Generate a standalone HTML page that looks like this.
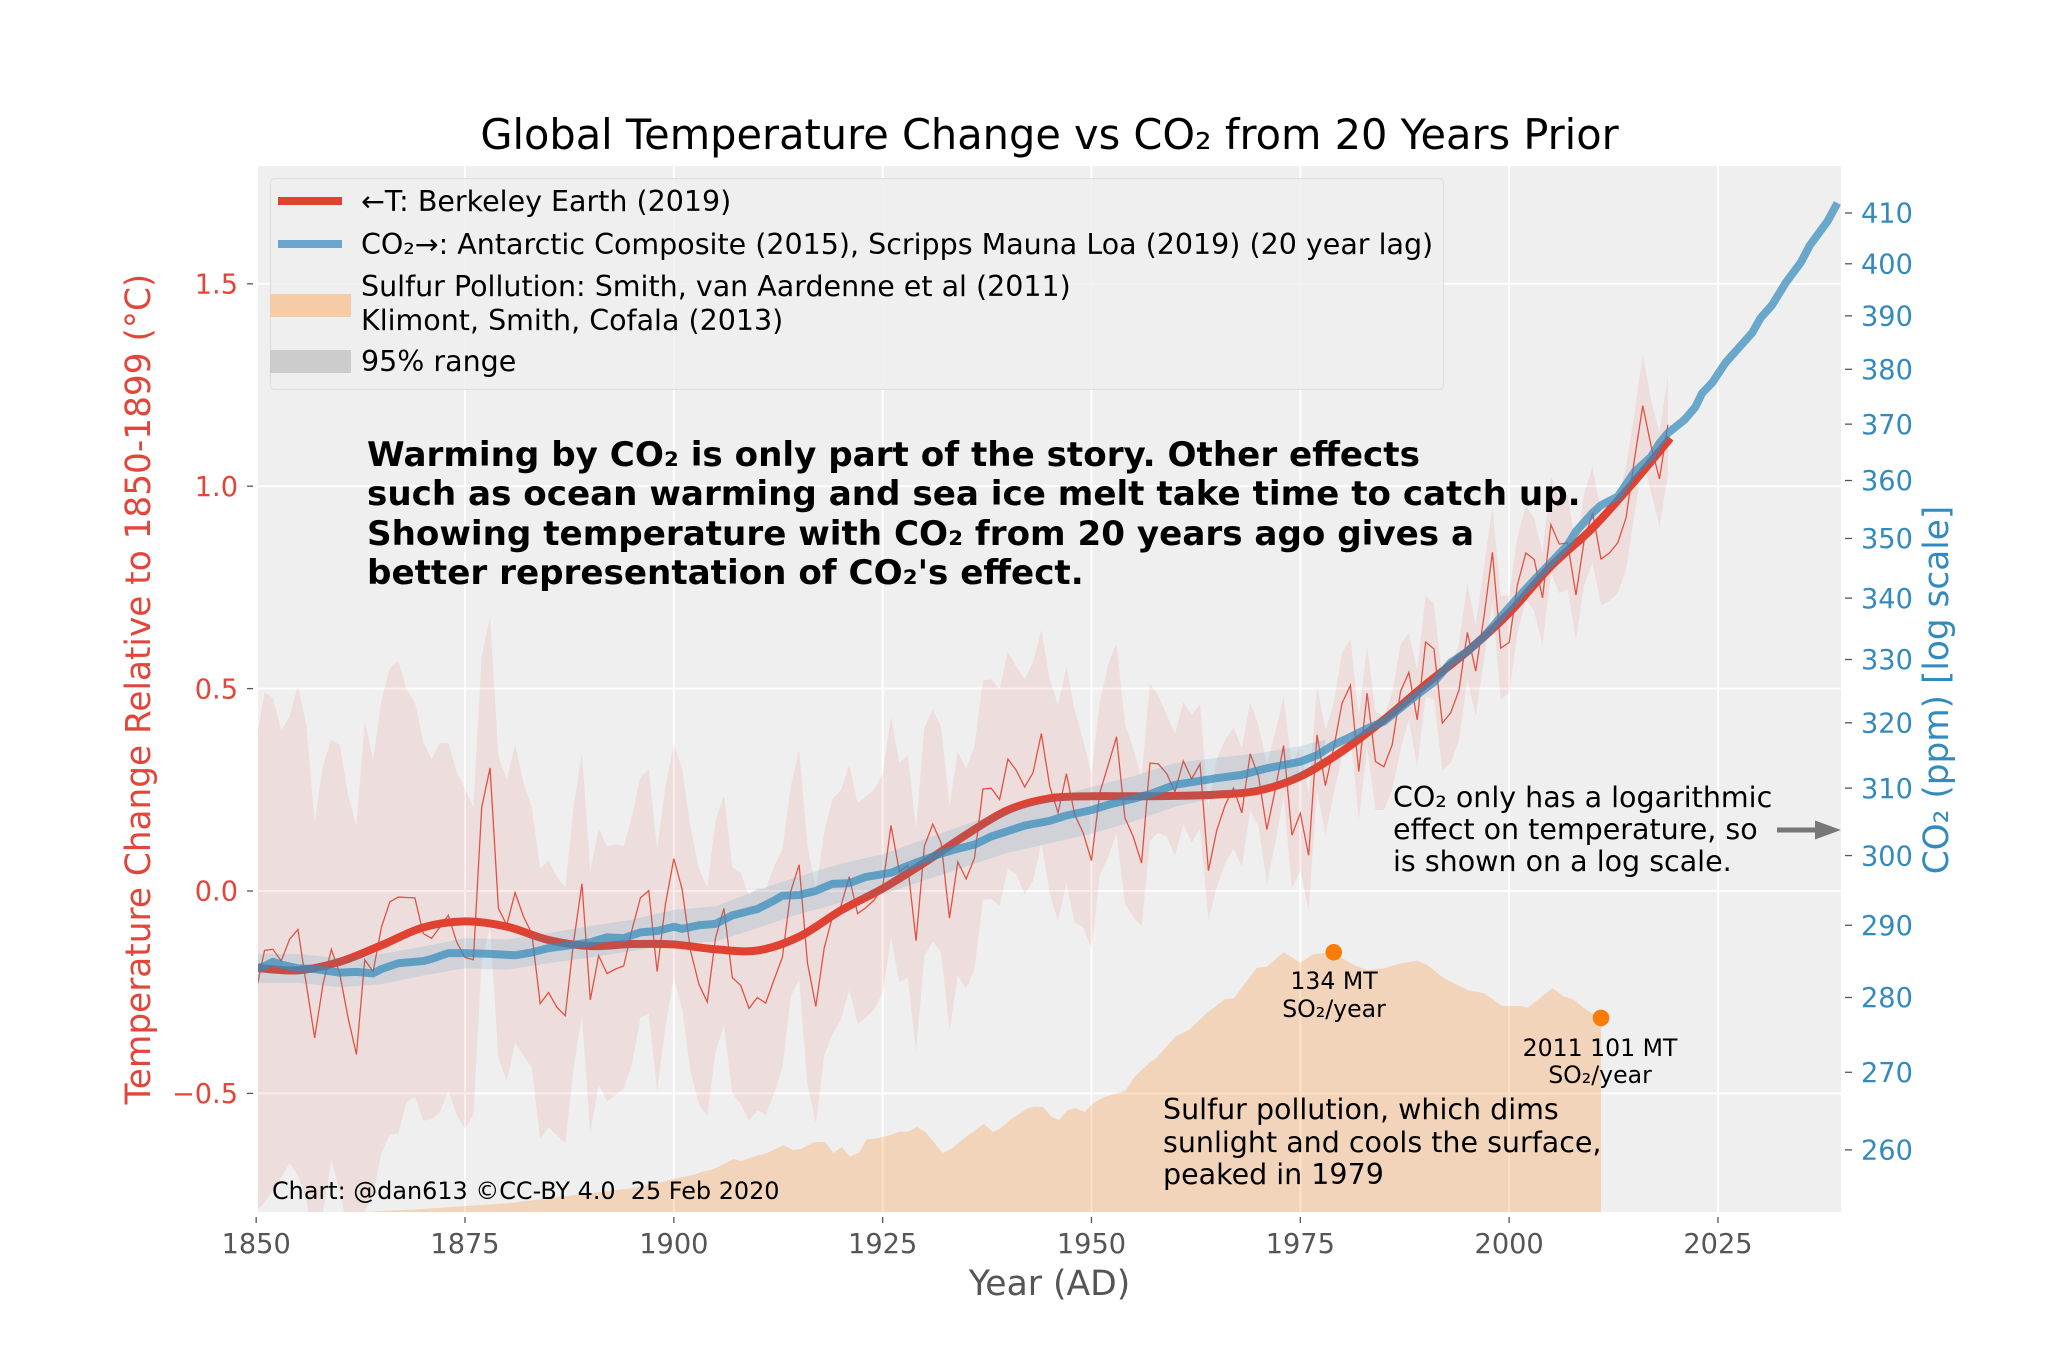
<!DOCTYPE html>
<html lang="en">
<head>
<meta charset="utf-8">
<title>Global Temperature Change vs CO₂ from 20 Years Prior</title>
<style>
html,body{margin:0;padding:0;background:#fff;}
svg{display:block;font-family:"DejaVu Sans","Liberation Sans",sans-serif;}
text{white-space:pre;}
</style>
</head>
<body>
<svg id="chart" xmlns="http://www.w3.org/2000/svg" width="2048" height="1365" viewBox="0 0 2048 1365">
  <defs>
    <clipPath id="plot-clip"><rect x="258" y="166" width="1583" height="1046"/></clipPath>
  </defs>
  <rect x="0" y="0" width="2048" height="1365" fill="#ffffff"/>
  <rect x="258" y="166" width="1583" height="1046" fill="#efefef"/>
  <g id="grid"></g>
  <g id="marks" clip-path="url(#plot-clip)"></g>
  <g id="axes"></g>

  <text x="1049.5" y="149" font-size="41.5" text-anchor="middle" fill="#000">Global Temperature Change vs CO₂ from 20 Years Prior</text>
  <text x="1049.5" y="1295" font-size="34.6" text-anchor="middle" fill="#555555">Year (AD)</text>
  <text transform="translate(150,689) rotate(-90)" font-size="34.3" text-anchor="middle" fill="#E2453A">Temperature Change Relative to 1850-1899 (°C)</text>
  <text transform="translate(1948,690) rotate(-90)" font-size="34.3" text-anchor="middle" fill="#348ABD">CO₂ (ppm) [log scale]</text>

  <g>
    <rect x="270.5" y="178.5" width="1173" height="211" rx="4" fill="#efefef" fill-opacity="0.8" stroke="#dcdcdc" stroke-opacity="0.8" stroke-width="1.3"/>
    <rect x="278" y="197" width="64" height="8" fill="#E04232"/>
    <rect x="278" y="240" width="64" height="8" fill="#6BA7CC"/>
    <rect x="270" y="294" width="81" height="23" fill="#F5CCA5"/>
    <rect x="270" y="350" width="81" height="23" fill="#CCCCCC"/>
    <text x="361" y="211" font-size="28.5" fill="#000">←T: Berkeley Earth (2019)</text>
    <text x="361" y="254" font-size="28.5" fill="#000">CO₂→: Antarctic Composite (2015), Scripps Mauna Loa (2019) (20 year lag)</text>
    <text x="361" y="296" font-size="28.5" fill="#000">Sulfur Pollution: Smith, van Aardenne et al (2011)</text>
    <text x="361" y="330" font-size="28.5" fill="#000">Klimont, Smith, Cofala (2013)</text>
    <text x="361" y="371" font-size="28.5" fill="#000">95% range</text>
  </g>

  <g font-size="34.15" font-weight="bold" fill="#000">
    <text x="367" y="466">Warming by CO₂ is only part of the story. Other effects</text>
    <text x="367" y="505">such as ocean warming and sea ice melt take time to catch up.</text>
    <text x="367" y="545">Showing temperature with CO₂ from 20 years ago gives a</text>
    <text x="367" y="584">better representation of CO₂'s effect.</text>
  </g>

  <g font-size="28.5" fill="#000">
    <text x="1393" y="807">CO₂ only has a logarithmic</text>
    <text x="1393" y="839">effect on temperature, so</text>
    <text x="1393" y="871">is shown on a log scale.</text>
  </g>
  <g fill="#777777">
    <rect x="1777" y="827.5" width="40" height="5"/>
    <polygon points="1815,820.5 1841,830 1815,839.5"/>
  </g>

  <g font-size="28.5" fill="#000">
    <text x="1163" y="1119">Sulfur pollution, which dims</text>
    <text x="1163" y="1152">sunlight and cools the surface,</text>
    <text x="1163" y="1184">peaked in 1979</text>
  </g>
  <g font-size="23.6" fill="#000" text-anchor="middle">
    <text x="1334" y="989">134 MT</text>
    <text x="1334" y="1017">SO₂/year</text>
    <text x="1600" y="1056">2011 101 MT</text>
    <text x="1600" y="1083">SO₂/year</text>
  </g>
  <text x="272" y="1199" font-size="23.9" fill="#000">Chart: @dan613 ©CC-BY 4.0  25 Feb 2020</text>
</svg>
<script>
// ---- data ----
const firstYear = 1850;
// Annual temperature anomaly, 1850..2019 (deg C)
const annualTemp = [-0.245,-0.147,-0.144,-0.173,-0.119,-0.095,-0.230,-0.363,-0.230,-0.144,
-0.204,-0.313,-0.404,-0.170,-0.199,-0.089,-0.027,-0.015,-0.016,-0.017,
-0.105,-0.117,-0.089,-0.060,-0.126,-0.164,-0.170,0.207,0.304,-0.043,
-0.084,-0.004,-0.063,-0.105,-0.278,-0.251,-0.287,-0.308,-0.126,0.018,
-0.269,-0.160,-0.204,-0.193,-0.185,-0.095,-0.017,0.001,-0.199,-0.032,
0.080,0.004,-0.147,-0.230,-0.274,-0.115,-0.043,-0.214,-0.233,-0.290,
-0.263,-0.277,-0.219,-0.164,-0.001,0.065,-0.178,-0.285,-0.141,-0.063,
-0.037,0.035,-0.056,-0.041,-0.022,0.011,0.162,0.048,0.063,-0.123,
0.111,0.165,0.119,-0.067,0.072,0.030,0.082,0.252,0.254,0.226,
0.326,0.298,0.257,0.292,0.389,0.259,0.193,0.290,0.188,0.144,
0.075,0.243,0.311,0.381,0.181,0.134,0.069,0.316,0.314,0.290,
0.245,0.321,0.277,0.314,0.050,0.150,0.212,0.254,0.193,0.339,
0.283,0.152,0.250,0.359,0.138,0.192,0.088,0.386,0.260,0.353,
0.464,0.508,0.295,0.489,0.320,0.307,0.361,0.493,0.540,0.423,
0.615,0.598,0.415,0.440,0.496,0.639,0.543,0.679,0.837,0.600,
0.614,0.757,0.835,0.819,0.724,0.905,0.857,0.860,0.731,0.868,
0.934,0.820,0.835,0.860,0.922,1.066,1.199,1.099,1.018,1.152];
// Upper edge of the 95% range, 1850..2019
const tempUpper = [0.368,0.490,0.477,0.397,0.431,0.506,0.410,0.171,0.311,0.373,
0.361,0.238,0.160,0.420,0.323,0.472,0.550,0.569,0.497,0.467,
0.368,0.326,0.366,0.366,0.295,0.253,0.207,0.581,0.676,0.331,
0.276,0.362,0.268,0.206,0.056,0.077,0.035,0.009,0.207,0.340,
0.050,0.154,0.111,0.115,0.111,0.186,0.280,0.301,0.103,0.259,
0.365,0.301,0.155,0.056,0.009,0.175,0.236,0.059,0.046,-0.011,
0.009,0.004,0.061,0.103,0.258,0.347,0.113,0.004,0.144,0.228,
0.249,0.311,0.218,0.233,0.252,0.290,0.430,0.316,0.337,0.155,
0.404,0.449,0.404,0.212,0.344,0.303,0.358,0.520,0.523,0.499,
0.591,0.554,0.523,0.565,0.645,0.523,0.461,0.554,0.446,0.373,
0.290,0.467,0.560,0.612,0.414,0.352,0.279,0.513,0.482,0.435,
0.388,0.467,0.435,0.461,0.207,0.326,0.373,0.404,0.352,0.467,
0.407,0.316,0.390,0.481,0.307,0.361,0.241,0.506,0.398,0.464,
0.588,0.623,0.431,0.605,0.444,0.431,0.489,0.609,0.638,0.547,
0.730,0.708,0.526,0.547,0.613,0.759,0.658,0.802,0.951,0.728,
0.732,0.876,0.951,0.922,0.835,1.025,0.967,0.979,0.852,0.984,
1.049,0.934,0.942,0.967,1.049,1.181,1.325,1.214,1.132,1.272];
// Lower edge of the 95% range, 1850..2019
const tempLower = [-0.791,-0.770,-0.739,-0.708,-0.672,-0.703,-0.760,-0.895,-0.791,-0.666,
-0.739,-0.843,-0.916,-0.791,-0.749,-0.646,-0.602,-0.599,-0.521,-0.508,
-0.568,-0.564,-0.547,-0.493,-0.552,-0.588,-0.552,-0.173,-0.089,-0.412,
-0.469,-0.375,-0.406,-0.438,-0.611,-0.583,-0.604,-0.623,-0.438,-0.308,
-0.596,-0.479,-0.519,-0.505,-0.488,-0.427,-0.313,-0.302,-0.495,-0.334,
-0.214,-0.292,-0.448,-0.526,-0.557,-0.396,-0.334,-0.500,-0.526,-0.568,
-0.542,-0.554,-0.500,-0.438,-0.261,-0.219,-0.479,-0.573,-0.406,-0.354,
-0.318,-0.245,-0.328,-0.313,-0.292,-0.251,-0.115,-0.225,-0.214,-0.396,
-0.162,-0.124,-0.152,-0.346,-0.209,-0.242,-0.193,-0.022,-0.019,-0.037,
0.056,0.041,-0.008,0.025,0.119,-0.006,-0.074,0.020,-0.079,-0.089,
-0.144,0.041,0.082,0.144,-0.032,-0.064,-0.087,0.124,0.144,0.134,
0.087,0.165,0.119,0.155,-0.073,0.010,0.068,0.105,0.060,0.200,
0.159,0.018,0.117,0.233,0.006,0.051,-0.048,0.250,0.138,0.241,
0.332,0.386,0.175,0.353,0.200,0.200,0.250,0.349,0.423,0.307,
0.481,0.473,0.299,0.316,0.374,0.522,0.432,0.572,0.712,0.473,
0.489,0.638,0.720,0.691,0.609,0.786,0.736,0.745,0.621,0.757,
0.811,0.705,0.716,0.736,0.794,0.930,1.066,0.984,0.901,1.025];
// Smoothed temperature
const smoothYears = [1850,1855,1860,1865,1870,1875,1880,1885,1890,1895,1900,1905,1910,1915,1920,1925,1930,1935,1940,1945,1950,1955,1960,1965,1970,1975,1980,1985,1990,1995,2000,2005,2010,2015,2019.3];
const smoothTemp = [-0.190,-0.196,-0.175,-0.134,-0.090,-0.075,-0.088,-0.121,-0.136,-0.131,-0.132,-0.144,-0.147,-0.113,-0.048,0.006,0.070,0.139,0.200,0.229,0.234,0.234,0.235,0.238,0.248,0.283,0.345,0.423,0.510,0.592,0.687,0.802,0.897,1.012,1.119];
// CO2 (ppm), already shifted by the 20-year lag on the x axis
const co2Years = [1850,1851,1852,1853,1855,1857,1860,1862,1864,1865,1867,1870,1871,1873,1875,1878,1881,1883,1885,1887,1890,1892,1894,1896,1898,1900,1901,1903,1905,1907,1910,1912,1913,1915,1917,1919,1921,1923,1926,1928,1930,1932,1934,1936,1938,1940,1942,1945,1947,1950,1952,1955,1957,1960,1963,1965,1968,1971,1973,1975,1977,1979,1981,1983,1985,1987,1989,1991,1993,1995,1997,1999,2001,2003,2005,2007,2008,2010,2011,2013,2015,2017,2018,2019,2021,2022.3,2023.1,2024.3,2025.9,2027.5,2029.1,2030.1,2031.5,2033.1,2034.9,2036,2038.1,2039.3];
const co2Ppm = [284.0,284.3,284.9,284.5,284.0,283.9,283.4,283.5,283.3,283.9,284.7,285.0,285.3,286.1,286.1,286.0,285.8,286.2,286.8,287.1,287.6,288.3,288.2,289.0,289.2,289.8,289.5,290.0,290.2,291.4,292.3,293.5,294.2,294.3,294.9,295.9,296.0,296.9,297.5,298.5,299.4,300.3,301.0,301.6,302.8,303.6,304.4,305.1,305.9,306.7,307.5,308.4,309.1,310.5,311.1,311.5,312.0,313.0,313.5,314.0,315.0,316.6,317.8,319.1,320.2,322.3,324.4,326.4,329.5,331.3,333.7,336.9,340.0,343.0,345.9,348.9,351.2,354.4,355.7,357.2,361.5,364.2,366.6,368.4,370.8,373.1,375.6,377.5,381.2,384.0,386.8,389.6,392.1,396.3,400.2,403.6,408.3,412.0];
// CO2 uncertainty band
const co2BandYears = [1850,1855,1860,1865,1870,1875,1880,1885,1890,1895,1900,1905,1910,1915,1920,1925,1930,1935,1940,1945,1950,1955,1960,1965,1970,1975,1978];
const co2BandUpper = [286,286,285.4,286,287,288.2,288,288.9,289.9,290.8,292.2,292.7,295,297,298.8,300.2,302.4,304.6,306.8,308.4,310.2,311.8,313.8,314.6,315.3,316.4,317.4];
const co2BandLower = [282,282,281.4,281.8,283,284,283.8,284.7,285.5,286.4,287.4,287.7,289.6,291.6,293.2,294.4,296.4,298.4,300.4,301.8,303.2,305,307.2,308.6,310,311.7,314.5];
// Sulfur emissions (MT SO2 / year)
const sulfurYears = [1863,1865,1870,1875,1880,1885,1890,1895,1898.4,1900,1902.4,1903.4,1904.4,1905.8,1907.1,1908.1,1909.8,1911.2,1913.1,1914.3,1915.2,1916.8,1918.1,1919.1,1920.1,1921.1,1922.2,1923.1,1924,1925.6,1927,1928,1929.1,1930.2,1932.2,1933.2,1935,1937.1,1938.2,1939,1940.4,1942.4,1943.2,1944.2,1945.2,1946.1,1947.1,1948.1,1949.2,1950.2,1951.6,1954,1955.2,1957,1957.8,1960,1961.8,1963.8,1966,1967,1969.8,1971,1973,1975,1976.6,1977.8,1979.4,1981.4,1983,1985,1987,1989,1990.2,1992.2,1995,1997,1999.2,2001.4,2002.2,2005.2,2006.6,2007.8,2009,2010.6,2011];
const sulfurMt = [3.5,4.0,5.0,6.5,7.8,10.4,12.9,15.4,18.2,20.1,22.1,23.7,24.6,27.1,30.1,29.1,31.6,33.1,37.1,34.6,35.1,38.6,38.8,33.1,36.1,31.3,33.3,40.2,40.2,41.7,43.8,43.8,46.3,43.2,33.1,35.1,41.3,47.7,43.7,45.2,50.2,55.7,56.4,56.2,51.4,49.7,54.4,55.7,53.7,58.2,61.4,64.3,71.5,78.8,80.9,91.4,95.4,103.5,110.5,110.7,126.2,126.7,134,128.7,133.1,133.5,132.6,127.6,125.1,125.9,128.4,129.7,127.6,120.9,115,113.4,107,107,106.1,115.9,111.7,110,105.8,101.6,101];
const sulfurPointYears = [1979,2011];
const sulfurPointMt = [134,101];
// Axis ticks
const xTicks = [1850,1875,1900,1925,1950,1975,2000,2025];
const xTickLabels = ['1850','1875','1900','1925','1950','1975','2000','2025'];
const tempTicks = [-0.5,0,0.5,1,1.5];
const tempTickLabels = ['−0.5','0.0','0.5','1.0','1.5'];
const co2Ticks = [260,270,280,290,300,310,320,330,340,350,360,370,380,390,400,410];
const co2TickLabels = ['260','270','280','290','300','310','320','330','340','350','360','370','380','390','400','410'];

// ---- axis functions ----
function xScale(year){ return 465 + (year - 1875) * 8.353; }
function yTemp(t){ return 891 - 404.8 * t; }
function yCo2(ppm){ return 213 + 2057 * Math.log(410 / ppm); }
function ySulfur(mt){ return 1218.9 - 1.99 * mt; }

const NS = 'http://www.w3.org/2000/svg';
function make(parent, tag, attrs){
  const el = document.createElementNS(NS, tag);
  for (const k in attrs) el.setAttribute(k, attrs[k]);
  parent.appendChild(el);
  return el;
}
function pts(xs, ys){ return xs.map((x,i)=>x.toFixed(2)+' '+ys[i].toFixed(2)); }
function linePath(xs, ys){ return 'M' + pts(xs,ys).join('L'); }
function smoothPath(xs, ys){
  let d = 'M' + xs[0].toFixed(2) + ' ' + ys[0].toFixed(2);
  for (let i = 0; i < xs.length - 1; i++){
    const a = Math.max(i-1,0), b = Math.min(i+2,xs.length-1);
    const c1x = xs[i] + (xs[i+1]-xs[a])/6, c1y = ys[i] + (ys[i+1]-ys[a])/6;
    const c2x = xs[i+1] - (xs[b]-xs[i])/6, c2y = ys[i+1] - (ys[b]-ys[i])/6;
    d += 'C' + [c1x,c1y,c2x,c2y,xs[i+1],ys[i+1]].map(v=>v.toFixed(2)).join(' ');
  }
  return d;
}

const grid = document.getElementById('grid');
const marks = document.getElementById('marks');
const axes = document.getElementById('axes');

// grid lines
xTicks.forEach(function(t){
  const gl = make(grid,'line',{x1:xScale(t),x2:xScale(t),y1:166,y2:1212,stroke:'#ffffff','stroke-width':1.9});
  
  
});
tempTicks.forEach(function(t){
  const gl = make(grid,'line',{x1:258,x2:1841,y1:yTemp(t),y2:yTemp(t),stroke:'#ffffff','stroke-width':1.9});
  
  
});

// sulfur area
const sx = sulfurYears.map(xScale), sy = sulfurMt.map(ySulfur);
const sulfurArea = make(marks,'path',{d:linePath(sx,sy)+'L'+sx[sx.length-1]+' 1212L'+sx[0]+' 1212Z',fill:'#FF7F0E','fill-opacity':0.23});



// temperature band
const years = annualTemp.map(function(_,i){ return firstYear + i; });
const tx = years.map(xScale);
const bandUp = tempUpper.map(yTemp), bandLo = tempLower.map(yTemp);
const tempBand = make(marks,'path',{d:linePath(tx,bandUp)+'L'+pts(tx.slice().reverse(),bandLo.slice().reverse()).join('L')+'Z',fill:'#E04232','fill-opacity':0.095});



// annual temperature
const annualLine = make(marks,'path',{d:linePath(tx,annualTemp.map(yTemp)),fill:'none',stroke:'#E04232','stroke-width':1.3,'stroke-opacity':0.9,'stroke-linejoin':'miter'});



// smoothed temperature
const smoothLine = make(marks,'path',{d:smoothPath(smoothYears.map(xScale),smoothTemp.map(yTemp)),fill:'none',stroke:'#E04232','stroke-width':8,'stroke-linejoin':'round'});



// CO2 band
const cbx = co2BandYears.map(xScale);
const co2Band = make(marks,'path',{d:linePath(cbx,co2BandUpper.map(yCo2))+'L'+pts(cbx.slice().reverse(),co2BandLower.map(yCo2).reverse()).join('L')+'Z',fill:'#348ABD','fill-opacity':0.15});



// CO2 line
const co2Line = make(marks,'path',{d:linePath(co2Years.map(xScale),co2Ppm.map(yCo2)),fill:'none',stroke:'#348ABD','stroke-width':8,'stroke-opacity':0.72,'stroke-linejoin':'round'});



// sulfur points
sulfurPointYears.forEach(function(y,i){
  const dot = make(marks,'circle',{cx:xScale(y),cy:ySulfur(sulfurPointMt[i]),r:8.3,fill:'#F97C08'});
  
  
});

// x ticks
xTicks.forEach(function(t,i){
  const m = make(axes,'line',{x1:xScale(t),x2:xScale(t),y1:1217,y2:1223,stroke:'#555555','stroke-width':1.3});
  
  
  const l = make(axes,'text',{x:xScale(t),y:1253,'font-size':27.2,'text-anchor':'middle',fill:'#555555'});
  
  
  l.textContent = xTickLabels[i];
});
// left ticks
tempTicks.forEach(function(t,i){
  const m = make(axes,'line',{x1:247,x2:253,y1:yTemp(t),y2:yTemp(t),stroke:'#555555','stroke-width':1.3});
  
  
  const l = make(axes,'text',{x:238,y:yTemp(t)+9.7,'font-size':27.2,'text-anchor':'end',fill:'#E2453A'});
  
  
  l.textContent = tempTickLabels[i];
});
// right ticks
co2Ticks.forEach(function(t,i){
  const m = make(axes,'line',{x1:1845,x2:1852,y1:yCo2(t),y2:yCo2(t),stroke:'#555555','stroke-width':1.3});
  
  
  const l = make(axes,'text',{x:1861,y:yCo2(t)+9.7,'font-size':27.2,fill:'#348ABD'});
  
  
  l.textContent = co2TickLabels[i];
});
</script>
</body>
</html>
